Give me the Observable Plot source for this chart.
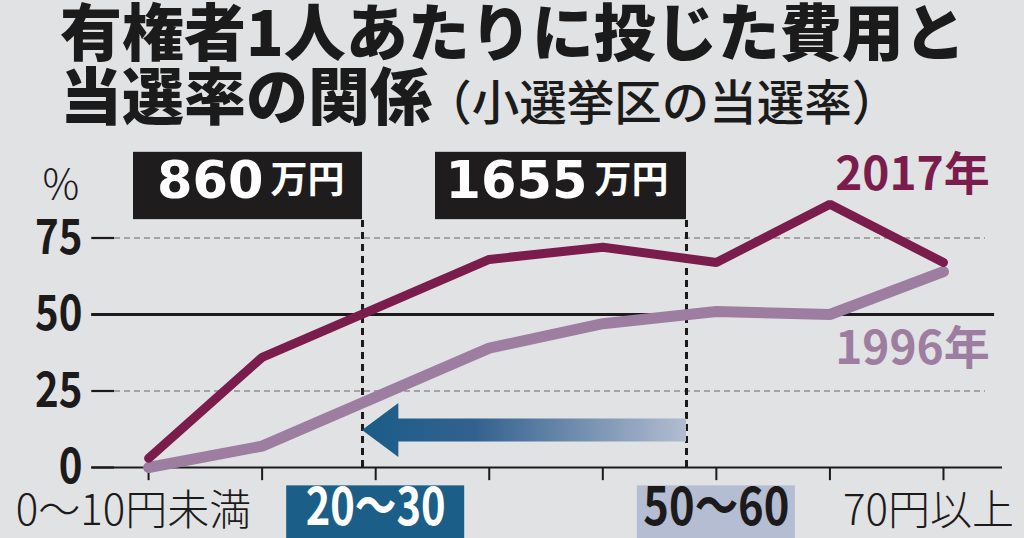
<!DOCTYPE html>
<html>
<head>
<meta charset="utf-8">
<script src="https://cdn.jsdelivr.net/npm/d3@7"></script>
<script src="https://cdn.jsdelivr.net/npm/@observablehq/plot@0.6"></script>
<style>
  html, body { margin: 0; padding: 0; background: #e1e2e4; }
  #wrap { position: relative; width: 1024px; height: 538px; background: #e1e2e4; overflow: hidden; font-family: "Noto Sans CJK JP", sans-serif; }
  #chart { position: absolute; left: 0; top: 0; }
  .title { position: absolute; left: 60px; color: #1b1b1b; font-weight: 900; font-size: 62px; line-height: 62px; white-space: nowrap; transform-origin: 0 0; }
  #t1 { top: -2px; }
  #t2 { top: 62px; }
  #t2 .sub { font-size: 47.5px; font-weight: 500; font-feature-settings: "halt"; margin-left: 16px; }
</style>
</head>
<body>
<div id="wrap">
  <div id="chart"></div>
  <div class="title" id="t1">有権者1人あたりに投じた費用と</div>
  <div class="title" id="t2">当選率の関係<span class="sub">（小選挙区の当選率）</span></div>
</div>
<script>
// ---- data ----
const categories = ["0〜10円未満", "10〜20", "20〜30", "30〜40", "40〜50", "50〜60", "60〜70", "70円以上"];
const rate2017 = [3, 36, 52, 68, 72, 67, 86, 67];
const rate1996 = [0, 7, 23, 39, 47, 51, 50, 64];
const seriesNames = ["2017年", "1996年"];
const yTicks = [0, 25, 50, 75];
const plainLabels = [0, 7];          // category indexes shown as plain labels
const boxedLabels = [2, 5];          // category indexes shown in boxes
const thresholdAmounts = ["860", "1655"];
const thresholdUnit = "万円";
const thresholdAt = [1.884, 4.737];  // position on the category axis

const c2017 = "#7a1d4c";
const c1996 = "#9d7ea1";
const ink = "#1c1a1b";

const idx = d3.range(categories.length);
const data2017 = idx.map(i => ({i, v: rate2017[i]}));
const data1996 = idx.map(i => ({i, v: rate1996[i]}));
const thresholds = thresholdAmounts.map((a, k) => ({amount: a, at: thresholdAt[k]}));

// arrow from the 1655 line back to the 860 line
const tip = thresholdAt[0], tail = thresholdAt[1], headLen = 0.32, yc = 12.1, headHalf = 8.8, shaftHalf = 3.75;
const arrowPts = [
  {x: tip, lo: yc, hi: yc},
  {x: tip + headLen, lo: yc - headHalf, hi: yc + headHalf},
  {x: tip + headLen, lo: yc - shaftHalf, hi: yc + shaftHalf},
  {x: tail, lo: yc - shaftHalf, hi: yc + shaftHalf}
];

const boxWidth = {"860": 229, "1655": 251};
const labelBox = {2: {half: 89, fill: "#1b5f88", color: "white", w: 140}, 5: {half: 79, fill: "#b4bdd1", color: "#1c1a1b", w: 146}};

const defs = () => {
  const g = d3.create("svg:defs");
  const lg = g.append("linearGradient").attr("id", "arrowGrad").attr("x1", "0").attr("x2", "1").attr("y1", "0").attr("y2", "0");
  lg.append("stop").attr("offset", "0").attr("stop-color", "#1a5d88");
  lg.append("stop").attr("offset", "0.35").attr("stop-color", "#33618f");
  lg.append("stop").attr("offset", "1").attr("stop-color", "#b2bdd0");
  return g.node();
};

const marks = [
  defs,
  Plot.ruleY([25, 75], {stroke: "#8e8e8e", strokeWidth: 1.3, strokeDasharray: "6,4"}),
  Plot.ruleY(yTicks, {x1: -0.5, x2: -0.3, stroke: ink, strokeWidth: 2.2}),
  Plot.ruleY([50], {x1: -0.5, x2: 7.45, stroke: ink, strokeWidth: 2.8}),
  Plot.ruleY([0], {x1: -0.5, x2: 7.52, stroke: ink, strokeWidth: 2.2}),
  Plot.ruleX(idx, {y1: 0, y2: -4.3, stroke: ink, strokeWidth: 2}),
  Plot.ruleX(thresholds, {x: "at", y1: 0, y2: 81, stroke: ink, strokeWidth: 3, strokeDasharray: "7,5"}),
  Plot.areaY(arrowPts, {x: "x", y1: "lo", y2: "hi", fill: "url(#arrowGrad)", curve: "linear"}),
  Plot.line(data1996, {x: "i", y: "v", stroke: c1996, strokeWidth: 11, strokeLinejoin: "miter", strokeLinecap: "round"}),
  Plot.line(data2017, {x: "i", y: "v", stroke: c2017, strokeWidth: 9, strokeLinejoin: "miter", strokeLinecap: "round"}),
  ...thresholds.map(t => Plot.rect([t], {x1: "at", x2: "at", y1: 81, y2: 103, insetLeft: -boxWidth[t.amount], fill: "#1f1c1d"})),
  Plot.text(thresholds, {x: "at", y: 93.5, text: "amount", dx: -99, textAnchor: "end", fill: "white", fontSize: 51, fontWeight: 700, fontFamily: "'DejaVu Sans', sans-serif"}),
  Plot.text(thresholds, {x: "at", y: 93.5, text: () => thresholdUnit, dx: -18, textAnchor: "end", fill: "white", fontSize: 37, fontWeight: 700}),
  // series labels
  Plot.text([{i: 7, v: rate2017[7], s: seriesNames[0]}], {x: "i", y: "v", text: "s", dx: -31, dy: -87, fill: c2017, fontSize: 46, fontWeight: 700}),
  Plot.text([{i: 7, v: rate1996[7], s: seriesNames[1]}], {x: "i", y: "v", text: "s", dx: -31, dy: 78, fill: c1996, fontSize: 46, fontWeight: 700}),
  // y labels
  Plot.text(yTicks, {y: d => d, frameAnchor: "left", dx: -32, textAnchor: "end", text: d => String(d), fill: ink, fontSize: 49, fontWeight: 700}),
  Plot.text(["%"], {frameAnchor: "top-left", dx: -72, dy: 8, text: d => d, fill: ink, fontSize: 41, fontWeight: 300}),
  // x labels
  Plot.text(plainLabels, {x: d => d, frameAnchor: "bottom", dx: -15, dy: 57, text: d => categories[d], fill: ink, fontSize: 42, fontWeight: 300}),
  ...boxedLabels.map(i => Plot.rect([i], {x1: d => d, x2: d => d, y1: -6, y2: -24, insetLeft: -labelBox[i].half, insetRight: -labelBox[i].half, fill: labelBox[i].fill})),
  ...boxedLabels.map(i => Plot.text([i], {x: d => d, frameAnchor: "bottom", dy: 57, text: d => categories[d], fill: labelBox[i].color, fontSize: 52, fontWeight: 700}))
];

const svg = Plot.plot({
  width: 1024, height: 538,
  marginLeft: 114, marginRight: 39, marginTop: 161, marginBottom: 71,
  x: {domain: [-0.3, 7.37], axis: null},
  y: {domain: [0, 100], axis: null},
  style: {background: "transparent", fontFamily: "'Noto Sans CJK JP', sans-serif", overflow: "visible"},
  marks
});
document.getElementById("chart").appendChild(svg);

// condense some texts to match the narrow newspaper type, keeping their anchor
const yTickStrings = yTicks.map(String);
svg.querySelectorAll("text").forEach(t => {
  const s = t.textContent;
  let target = null, anchor = null;
  if (yTickStrings.includes(s)) { target = t.getComputedTextLength() * 0.82; anchor = "end"; }
  boxedLabels.forEach(i => { if (s === categories[i]) { target = labelBox[i].w; anchor = "middle"; } });
  if (target == null) return;
  const b0 = t.getBBox();
  t.setAttribute("textLength", target);
  t.setAttribute("lengthAdjust", "spacingAndGlyphs");
  const b1 = t.getBBox();
  const want = anchor === "end" ? b0.x + b0.width : b0.x + b0.width / 2;
  const got = anchor === "end" ? b1.x + b1.width : b1.x + b1.width / 2;
  const corr = want - got;
  if (Math.abs(corr) > 0.5) t.setAttribute("x", corr);
});
</script>
</body>
</html>
